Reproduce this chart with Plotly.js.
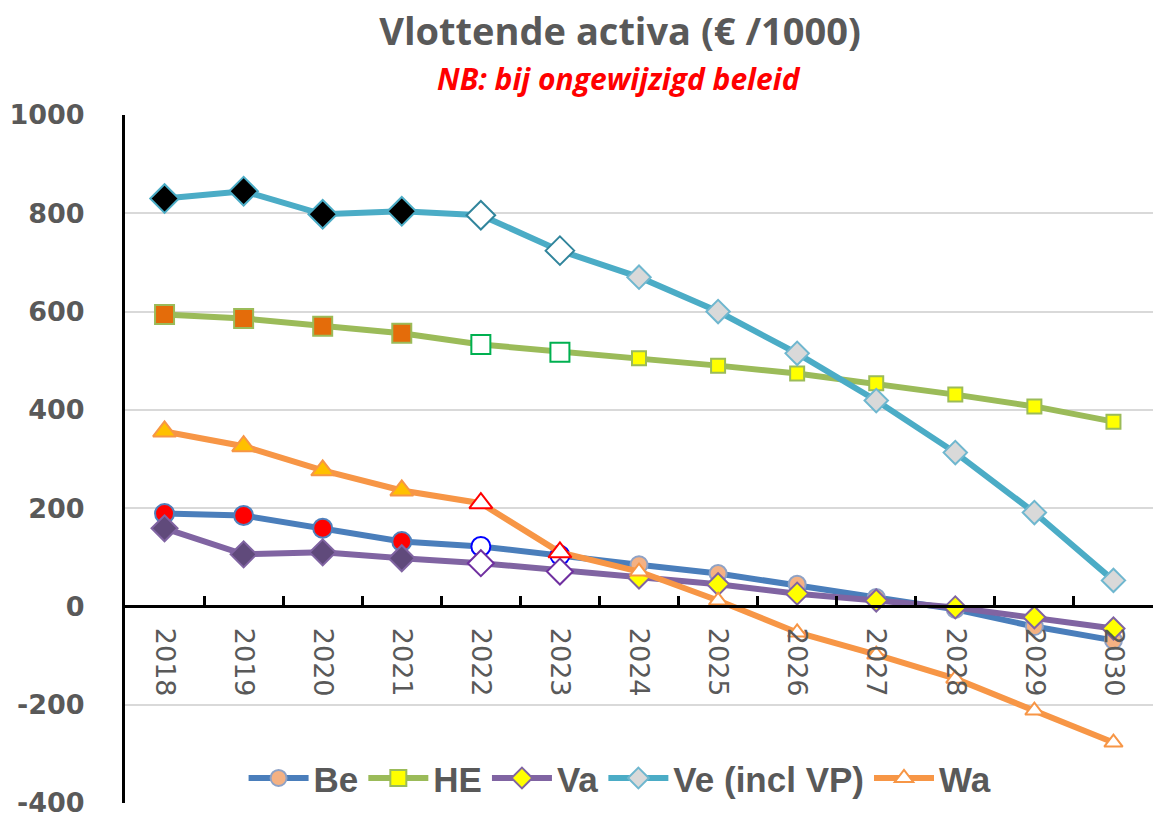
<!DOCTYPE html>
<html>
<head>
<meta charset="utf-8">
<script src="https://cdn.plot.ly/plotly-3.0.1.min.js"></script>
<style>html,body{margin:0;padding:0;background:#fff;}#chart{width:1155px;height:822px;}</style>
</head>
<body>
<div id="chart"></div>
<script>
// ---- data ----
const years = ["2018","2019","2020","2021","2022","2023","2024","2025","2026","2027","2028","2029","2030"];
const be = [189, 185, 159, 132, 122, 104, 85, 67, 45, 18, -6, -41, -69];
const he = [594, 586, 570, 556, 533, 517, 505, 490, 474, 454, 431, 407, 376];
const va = [159, 106, 110, 98, 88, 71, 59, 45, 26, 12, -2, -22, -45];
const ve = [830, 845, 798, 804, 796, 724, 670, 600, 515, 419, 313, 191, 53];
const wa = [356, 326, 277, 236, 210, 110, 71, 12, -53, -98, -147, -212, -277];
const seriesNames = ["Be", "HE", "Va", "Ve (incl VP)", "Wa"];
const yTickVals = [-400, -200, 0, 200, 400, 600, 800, 1000];
const yTickText = ["-400", "-200", "0", "200", "400", "600", "800", "1000"];

// ---- styling ----
const nActual = 4, nTransition = 2;
const styles = [
  {line:"#4A7EBB", sym:"circle",
   a:{f:"#FF0000", l:"#4F81BD", s:19}, t:{f:"#FFFFFF", l:"#0000FF", s:19}, p:{f:"#F4B183", l:"#8EA2C6", s:17}},
  {line:"#9BBB59", sym:"square",
   a:{f:"#E46C0A", l:"#9BBB59", s:19}, t:{f:"#FFFFFF", l:"#00B050", s:19}, p:{f:"#FFFF00", l:"#9BBB59", s:14}},
  {line:"#8064A2", sym:"diamond",
   a:{f:"#604A7B", l:"#8064A2", s:20}, t:{f:"#FFFFFF", l:"#7030A0", s:20}, p:{f:"#FFFF00", l:"#8064A2", s:17}},
  {line:"#4BACC6", sym:"diamond",
   a:{f:"#000000", l:"#4BACC6", s:22}, t:{f:"#FFFFFF", l:"#31859C", s:22}, p:{f:"#D9D9D9", l:"#6FB7CF", s:18}},
  {line:"#F79646", sym:"triangle-up",
   a:{f:"#FFC000", l:"#F79646", s:20}, t:{f:"#FFFFFF", l:"#FF0000", s:20}, p:{f:"#FFFFFF", l:"#F79646", s:16}}
];
const allValues = [be, he, va, ve, wa];

function phase(i){ return i < nActual ? "a" : (i < nActual + nTransition ? "t" : "p"); }

// Points given in reverse order so the legend picks up the forecast marker style
const traces = allValues.map((vals, k) => {
  const st = styles[k];
  const idx = years.map((_, i) => i).reverse();
  return {
    type: "scatter", mode: "lines+markers", name: seriesNames[k],
    x: idx.map(i => years[i]), y: idx.map(i => vals[i]),
    line: {color: st.line, width: 6},
    marker: {
      symbol: st.sym, opacity: 1,
      color: idx.map(i => st[phase(i)].f),
      size: idx.map(i => st[phase(i)].s),
      line: {color: idx.map(i => st[phase(i)].l), width: 2}
    },
    hoverinfo: "skip"
  };
});

const gray = "#595959";
const layout = {
  width: 1155, height: 822,
  margin: {l: 125, r: 2, t: 115, b: 19},
  paper_bgcolor: "#FFFFFF", plot_bgcolor: "#FFFFFF",
  showlegend: true,
  title: {
    text: "Vlottende activa (€ /1000)",
    font: {family: "Open Sans", size: 38, color: gray, weight: 700},
    x: 0.4816, xref: "paper", xanchor: "center",
    y: 1 - 32/822, yref: "container", yanchor: "middle"
  },
  annotations: [{
    text: "<b><i>NB: bij ongewijzigd beleid</i></b>",
    xref: "paper", yref: "paper", x: 0.4806, y: 1 + (115 - 78)/688,
    xanchor: "center", yanchor: "middle", showarrow: false,
    font: {family: "Open Sans", size: 30, color: "#FF0000"}
  }],
  xaxis: {
    type: "category", categoryorder: "array", categoryarray: years,
    range: [-0.5, 12.5],
    anchor: "free", position: 400/1400,
    showline: true, linecolor: "#000000", linewidth: 3,
    ticks: "inside", tickson: "boundaries", ticklen: 9, tickwidth: 3, tickcolor: "#000000",
    tickangle: 90, ticklabelstandoff: 14,
    tickfont: {family: "DejaVu Sans", size: 27, color: gray},
    showgrid: false, zeroline: false, fixedrange: true
  },
  yaxis: {
    range: [-400, 1000], tickmode: "array", tickvals: yTickVals, ticktext: yTickText,
    showline: true, linecolor: "#000000", linewidth: 3,
    ticks: "", ticklabelstandoff: 32,
    tickfont: {family: "DejaVu Sans", size: 27, color: gray, weight: 700},
    showgrid: true, gridcolor: "#D9D9D9", gridwidth: 2,
    zeroline: false, fixedrange: true
  },
  legend: {
    orientation: "h", x: 0.4816, xanchor: "center", y: 0.036, yanchor: "middle",
    font: {family: "Liberation Sans", size: 35, color: gray, weight: 700},
    itemwidth: 60,
    bgcolor: "rgba(255,255,255,0)", itemclick: false, itemdoubleclick: false
  },
  hovermode: false
};

Plotly.newPlot("chart", traces, layout, {displayModeBar: false, staticPlot: true});
</script>
</body>
</html>
